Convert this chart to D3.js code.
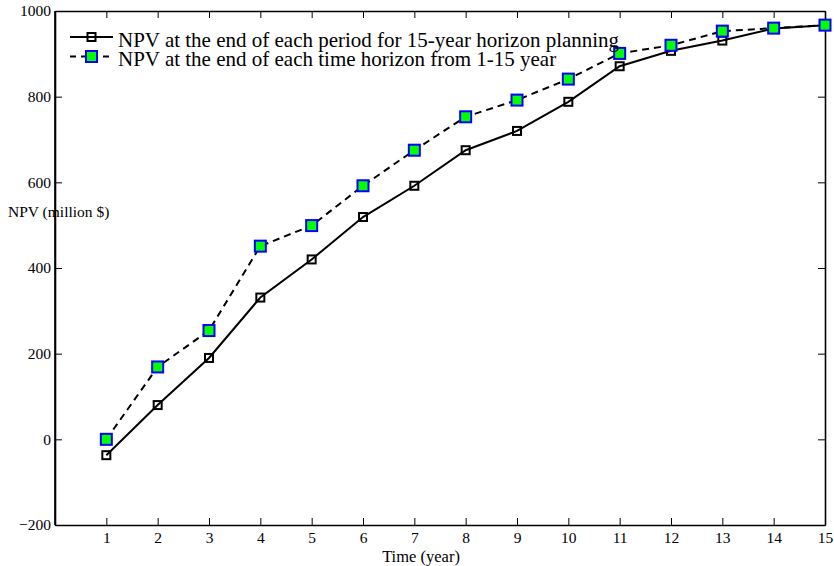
<!DOCTYPE html>
<html>
<head>
<meta charset="utf-8">
<script src="https://cdn.jsdelivr.net/npm/d3@7"></script>
<style>
  body { margin: 0; background: #fff; }
</style>
</head>
<body>
<svg id="chart" width="834" height="566" font-family="Liberation Serif, Times New Roman, serif"></svg>
<script>
'use strict'

const years = [1, 2, 3, 4, 5, 6, 7, 8, 9, 10, 11, 12, 13, 14, 15]
// solid line: NPV at end of each period, 15-year plan
const npvPeriod = [-37, 80, 190, 331, 420, 519, 592, 675, 720, 788, 871, 907, 931, 959, 967]
// dashed line: NPV at end of each horizon 1-15
const npvHorizon = [0, 169, 254, 451, 499, 592, 675, 753, 792, 841, 901, 920, 953, 960, 967]
const yTicks = [-200, 0, 200, 400, 600, 800, 1000]
const legendLabels = [
  'NPV at the end of each period for 15-year horizon planning',
  'NPV at the end of each time horizon from 1-15 year'
]

const FONT = 'Liberation Serif'
const svg = d3.select('#chart')
const plotLeft = 55, plotRight = 825, plotTop = 11, plotBottom = 525

const x = d3.scaleLinear().domain([0, 15]).range([plotLeft, plotRight])
const y = d3.scaleLinear().domain([-200, 1000]).range([plotBottom, plotTop])

const tickLen = 7

// axes (box with inward ticks)
svg.append('g')
  .attr('transform', `translate(0,${plotBottom})`)
  .call(d3.axisBottom(x).tickValues(years).tickSizeInner(-tickLen).tickSizeOuter(0).tickPadding(7))
svg.append('g')
  .attr('transform', `translate(0,${plotTop})`)
  .call(d3.axisTop(x).tickValues(years).tickSizeInner(-tickLen).tickSizeOuter(0).tickFormat(''))
svg.append('g')
  .attr('transform', `translate(${plotLeft},0)`)
  .call(d3.axisLeft(y).tickValues(yTicks).tickSizeInner(-tickLen).tickSizeOuter(0).tickPadding(4).tickFormat(d3.format('d')))
svg.append('g')
  .attr('transform', `translate(${plotRight},0)`)
  .call(d3.axisRight(y).tickValues(yTicks).tickSizeInner(-tickLen).tickSizeOuter(0).tickFormat(''))

svg.selectAll('g').attr('font-family', FONT).attr('font-size', 15.5)
svg.selectAll('.domain').attr('stroke', '#000').attr('stroke-width', 1.6)
svg.selectAll('.tick line').attr('stroke', '#000').attr('stroke-width', 1)
svg.selectAll('.tick text').attr('fill', '#000')

// axis labels
svg.append('text')
  .attr('x', 421).attr('y', 562)
  .attr('text-anchor', 'middle')
  .attr('font-family', FONT).attr('font-size', 16.5)
  .text('Time (year)')

svg.append('text')
  .attr('x', 8).attr('y', 217)
  .attr('font-family', FONT).attr('font-size', 15.5)
  .text('NPV (million $)')

// redraw the left axis line above the label, as in the original
svg.append('line')
  .attr('x1', plotLeft).attr('x2', plotLeft).attr('y1', plotTop).attr('y2', plotBottom)
  .attr('stroke', '#000').attr('stroke-width', 1.6)

const line = d3.line().x((d, i) => x(years[i])).y(d => y(d))

svg.append('path')
  .datum(npvPeriod)
  .attr('d', line)
  .attr('fill', 'none').attr('stroke', '#000').attr('stroke-width', 2)

svg.append('path')
  .datum(npvHorizon)
  .attr('d', line)
  .attr('fill', 'none').attr('stroke', '#000').attr('stroke-width', 2)
  .attr('stroke-dasharray', '7,5')

const s1 = 8, s2 = 11
svg.append('g').selectAll('rect')
  .data(npvPeriod)
  .join('rect')
  .attr('x', (d, i) => x(years[i]) - s1 / 2)
  .attr('y', d => y(d) - s1 / 2)
  .attr('width', s1).attr('height', s1)
  .attr('fill', 'none').attr('stroke', '#000').attr('stroke-width', 2)

svg.append('g').selectAll('rect')
  .data(npvHorizon)
  .join('rect')
  .attr('x', (d, i) => x(years[i]) - s2 / 2)
  .attr('y', d => y(d) - s2 / 2)
  .attr('width', s2).attr('height', s2)
  .attr('fill', '#00ff00').attr('stroke', '#0000ff').attr('stroke-width', 2)

// legend
const legend = svg.append('g')
const rows = [
  { yPos: 37, dash: null, size: s1, fill: 'none', stroke: '#000' },
  { yPos: 56.5, dash: '6,5', size: s2, fill: '#00ff00', stroke: '#0000ff' }
]
rows.forEach((r, i) => {
  legend.append('line')
    .attr('x1', 70).attr('x2', 113).attr('y1', r.yPos).attr('y2', r.yPos)
    .attr('stroke', '#000').attr('stroke-width', 2)
    .attr('stroke-dasharray', r.dash)
  legend.append('rect')
    .attr('x', 91.5 - r.size / 2).attr('y', r.yPos - r.size / 2)
    .attr('width', r.size).attr('height', r.size)
    .attr('fill', r.fill).attr('stroke', r.stroke).attr('stroke-width', 2)
  legend.append('text')
    .attr('x', 118).attr('y', r.yPos + 9.5)
    .attr('font-family', FONT).attr('font-size', 21)
    .text(legendLabels[i])
})
</script>
</body>
</html>
